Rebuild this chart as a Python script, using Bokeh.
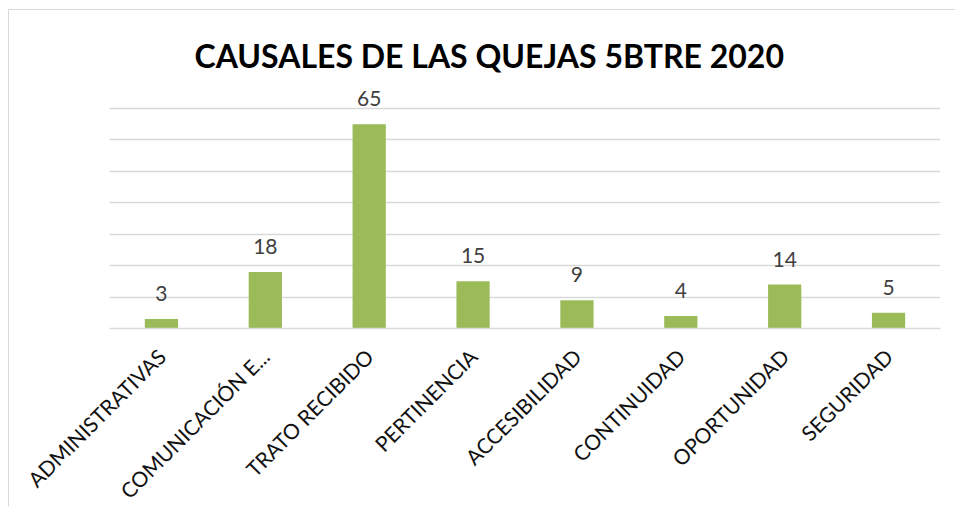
from bokeh.plotting import figure
from bokeh.models import ColumnDataSource, FixedTicker, LabelSet, Title
from bokeh.core.properties import value
from bokeh.embed import file_html
from bokeh.resources import INLINE
import math

categories = ["ADMINISTRATIVAS", "COMUNICACIÓN E...", "TRATO RECIBIDO", "PERTINENCIA",
              "ACCESIBILIDAD", "CONTINUIDAD", "OPORTUNIDAD", "SEGURIDAD"]
values = [3, 18, 65, 15, 9, 4, 14, 5]
labels = [str(v) for v in values]
grid_ticks = [10, 20, 30, 40, 50, 60, 70]
title_text = "CAUSALES DE LAS QUEJAS 5BTRE 2020"

src = ColumnDataSource(dict(cat=categories, val=values, lab=labels))

p = figure(x_range=categories, y_range=(0, 77),
           frame_width=831, frame_height=242,
           output_backend="svg", toolbar_location=None,
           min_border_left=100, min_border_right=15, min_border_top=76,
           min_border_bottom=176)
p.x_range.range_padding = 0
p.outline_line_color = None
p.background_fill_color = "white"
p.border_fill_color = "white"

title = Title(text=title_text, align="left", offset=85, standoff=20,
              vertical_align="top", text_font="Lato", text_font_style="bold",
              text_font_size="32px", text_color="#000000")
p.add_layout(title, "above")

p.vbar(x="cat", top="val", width=0.32, source=src, color="#9BBB59", line_color=None)

lbl = LabelSet(x="cat", y="val", text="lab", source=src, text_align="center",
               text_baseline="alphabetic", y_offset=18, text_font=value("Lato"),
               text_font_size="21px", text_color="#404040")
p.add_layout(lbl)

p.yaxis.visible = False
p.ygrid.ticker = FixedTicker(ticks=grid_ticks)
p.ygrid.grid_line_color = "#d9d9d9"
p.ygrid.grid_line_width = 1.5
p.xgrid.grid_line_color = None

p.xaxis.axis_line_color = "#d9d9d9"
p.xaxis.axis_line_width = 1.5
p.xaxis.major_tick_line_color = None
p.xaxis.minor_tick_line_color = None
p.xaxis.major_label_orientation = math.pi / 4
p.xaxis.major_label_text_font = "Lato"
p.xaxis.major_label_text_font_size = "21px"
p.xaxis.major_label_text_color = "#111111"
p.xaxis.major_label_standoff = 18

p.styles = {"margin-left": "8px", "margin-top": "9px",
            "border-left": "1px solid #d9d9d9", "border-top": "1px solid #d9d9d9"}

open("out.html", "w").write(file_html(p, INLINE))
